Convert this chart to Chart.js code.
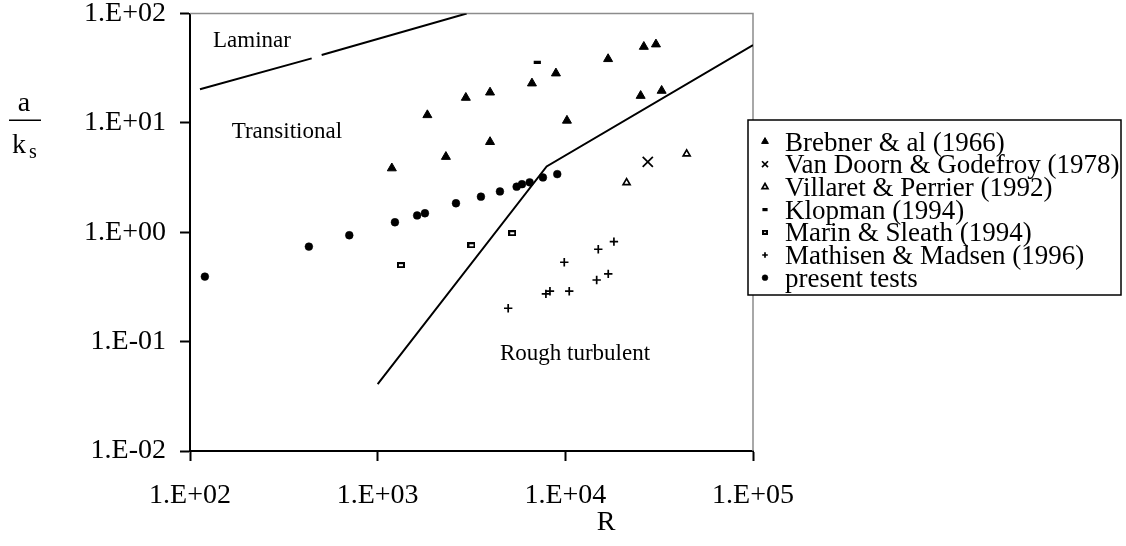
<!DOCTYPE html>
<html>
<head>
<meta charset="utf-8">
<script src="https://cdn.jsdelivr.net/npm/chart.js@4/dist/chart.umd.min.js"></script>
<style>
  html, body { margin: 0; padding: 0; background: #fff; }
  #plot { display: block; }
</style>
</head>
<body>
<canvas id="plot" width="1126" height="546"></canvas>
<script>
// Measured data: relative orbital amplitude a/ks against Reynolds number R
var brebnerR = [1190, 1840, 2310, 2950, 3970, 3970, 6640, 8910, 10200, 16900, 25200, 26200, 30400, 32600];
var brebnerA = [3.85, 11.8, 4.9, 17.0, 19.0, 6.7, 23.0, 28.4, 10.5, 38.4, 17.7, 49.7, 52.3, 19.7];

var vanDoornR = [27500];
var vanDoornA = [4.4];

var villaretR = [21200, 44300];
var villaretA = [2.84, 5.2];

var klopmanR = [7090];
var klopmanA = [35.8];

var marinR = [1330, 3160, 5210];
var marinA = [0.50, 0.76, 0.98];

var mathisenR = [4960, 7880, 8280, 9870, 10490, 14690, 14980, 16930, 18150];
var mathisenA = [0.202, 0.273, 0.289, 0.532, 0.289, 0.366, 0.699, 0.416, 0.821];

var presentR = [120, 430, 706, 1236, 1623, 1786, 2614, 3550, 4483, 5502, 5873, 6454, 7597, 9057];
var presentA = [0.393, 0.739, 0.939, 1.234, 1.424, 1.492, 1.841, 2.116, 2.36, 2.61, 2.75, 2.86, 3.17, 3.40];

// Regime boundaries (null breaks the laminar line)
var laminarR = [113, 445, 475, 503, 2980];
var laminarA = [20.3, 38.9, null, 41.8, 100];

var roughR = [1000, 7950, 100000];
var roughA = [0.0408, 4.0, 51.5];

// Axis ticks
var xTicks = [100, 1000, 10000, 100000];
var yTicks = [0.01, 0.1, 1, 10, 100];

// Regime names, anchored at left baseline in data units
var regionNames = ['Laminar', 'Transitional', 'Rough turbulent'];
var regionR = [132.6, 166.8, 4483];
var regionA = [49.7, 7.23, 0.068];

var FONT = '"Liberation Serif", "Times New Roman", serif';

function pairs(xs, ys) {
    return xs.map(function (x, i) { return { x: x, y: ys[i] }; });
}

function sciLabel(v) {
    var e = Math.round(Math.log10(v));
    var s = String(Math.abs(e));
    if (s.length < 2) s = '0' + s;
    return '1.E' + (e < 0 ? '-' : '+') + s;
}

// small open rectangle used for the Marin & Sleath points
function boxMarker(w, h) {
    var c = document.createElement('canvas');
    c.width = w; c.height = h;
    var g = c.getContext('2d');
    g.fillStyle = '#fff';
    g.fillRect(0, 0, w, h);
    g.strokeStyle = '#000';
    g.lineWidth = 2;
    g.strokeRect(1, 1, w - 2, h - 2);
    return c;
}

var series = [
    { label: 'Brebner & al (1966)', xs: brebnerR, ys: brebnerA, style: 'triangle', radius: 5.2, fill: '#000', bw: 1, lr: 3.9 },
    { label: 'Van Doorn & Godefroy (1978)', xs: vanDoornR, ys: vanDoornA, style: 'crossRot', radius: 7.2, fill: '#000', bw: 1.7, lr: 4.2 },
    { label: 'Villaret & Perrier (1992)', xs: villaretR, ys: villaretA, style: 'triangle', radius: 4, fill: '#fff', bw: 1.7, lr: 3.4 },
    { label: 'Klopman (1994)', xs: klopmanR, ys: klopmanA, style: 'line', radius: 3.6, fill: '#000', bw: 3.2, lr: 2.6 },
    { label: 'Marin & Sleath (1994)', xs: marinR, ys: marinA, style: boxMarker(8, 6), radius: 4, fill: '#fff', bw: 1, legendStyle: boxMarker(6, 5) },
    { label: 'Mathisen & Madsen (1996)', xs: mathisenR, ys: mathisenA, style: 'cross', radius: 4.2, fill: '#000', bw: 1.7, lr: 2.8 },
    { label: 'present tests', xs: presentR, ys: presentA, style: 'circle', radius: 3.9, fill: '#000', bw: 0.5, lr: 2.9 }
];

var datasets = series.map(function (s) {
    return {
        label: s.label,
        data: pairs(s.xs, s.ys),
        pointStyle: s.style,
        pointRadius: s.radius,
        pointBackgroundColor: s.fill,
        pointBorderColor: '#000',
        pointBorderWidth: s.bw,
        showLine: false
    };
});

datasets.push({
    label: 'laminar limit',
    data: pairs(laminarR, laminarA),
    showLine: true,
    spanGaps: false,
    pointRadius: 0,
    borderColor: '#000',
    borderWidth: 2
});
datasets.push({
    label: 'rough limit',
    data: pairs(roughR, roughA),
    showLine: true,
    pointRadius: 0,
    borderColor: '#000',
    borderWidth: 2
});

// gray frame on top and right of the plot area
var framePlugin = {
    id: 'frame',
    beforeDatasetsDraw: function (chart) {
        var a = chart.chartArea, ctx = chart.ctx;
        ctx.save();
        ctx.strokeStyle = '#8c8c8c';
        ctx.lineWidth = 1.5;
        ctx.beginPath();
        ctx.moveTo(a.left, a.top);
        ctx.lineTo(a.right, a.top);
        ctx.lineTo(a.right, a.bottom);
        ctx.stroke();
        ctx.restore();
    }
};

// axis titles, regime names and the boxed legend
var textPlugin = {
    id: 'texts',
    afterDraw: function (chart) {
        var ctx = chart.ctx;
        var xs = chart.scales.x, ys = chart.scales.y;
        ctx.save();
        ctx.fillStyle = '#000';
        ctx.textBaseline = 'alphabetic';

        ctx.font = '23px ' + FONT;
        ctx.textAlign = 'left';
        regionNames.forEach(function (t, i) {
            ctx.fillText(t, xs.getPixelForValue(regionR[i]), ys.getPixelForValue(regionA[i]));
        });

        // y title as a fraction a / k_s
        ctx.font = '28px ' + FONT;
        ctx.textAlign = 'center';
        ctx.fillText('a', 24, 111);
        ctx.fillRect(9, 119.5, 32, 1.5);
        ctx.fillText('k', 19, 153);
        ctx.font = '20px ' + FONT;
        ctx.fillText('s', 33, 158);

        // x title
        ctx.font = '28px ' + FONT;
        ctx.fillText('R', 606, 530);

        // legend box
        var lx = 748, ly = 120, lw = 373, lh = 175;
        ctx.fillStyle = '#fff';
        ctx.fillRect(lx, ly, lw, lh);
        ctx.strokeStyle = '#000';
        ctx.lineWidth = 1.5;
        ctx.strokeRect(lx, ly, lw, lh);

        ctx.textAlign = 'left';
        ctx.font = '27px ' + FONT;
        series.forEach(function (s, i) {
            var base = 150.5 + 22.7 * i;
            ctx.fillStyle = s.fill;
            ctx.strokeStyle = '#000';
            ctx.lineWidth = s.bw;
            Chart.helpers.drawPoint(ctx, {
                pointStyle: s.legendStyle || s.style,
                radius: s.lr || 3,
                borderWidth: s.bw,
                rotation: 0
            }, 765, base - 9);
            ctx.fillStyle = '#000';
            ctx.fillText(s.label, 785, base);
        });
        ctx.restore();
    }
};

function axisTicks(values) {
    return function (scale) {
        scale.ticks = values.map(function (v) { return { value: v }; });
    };
}

new Chart(document.getElementById('plot'), {
    type: 'scatter',
    data: { datasets: datasets },
    options: {
        responsive: false,
        animation: false,
        devicePixelRatio: 1,
        layout: { padding: { left: 0, top: 13.5, right: 373, bottom: 0 } },
        plugins: {
            legend: { display: false },
            tooltip: { enabled: false }
        },
        scales: {
            x: {
                type: 'logarithmic',
                min: 100,
                max: 100000,
                afterBuildTicks: axisTicks(xTicks),
                afterFit: function (scale) {
                    scale.height = 95;
                    scale.paddingLeft = 0; scale.paddingRight = 0;
                },
                grid: { display: true, drawOnChartArea: false, drawTicks: true, tickLength: 10, tickWidth: 2, tickColor: '#000' },
                border: { display: true, color: '#000', width: 2 },
                ticks: {
                    color: '#000',
                    padding: 18,
                    maxRotation: 0,
                    autoSkip: false,
                    font: { family: FONT, size: 28 },
                    callback: function (v) { return sciLabel(v); }
                }
            },
            y: {
                type: 'logarithmic',
                min: 0.01,
                max: 100,
                afterBuildTicks: axisTicks(yTicks),
                afterFit: function (scale) {
                    scale.width = 190;
                    scale.paddingTop = 0; scale.paddingBottom = 0;
                },
                grid: { display: true, drawOnChartArea: false, drawTicks: true, tickLength: 10, tickWidth: 2, tickColor: '#000' },
                border: { display: true, color: '#000', width: 2 },
                ticks: {
                    color: '#000',
                    padding: 14,
                    autoSkip: false,
                    font: { family: FONT, size: 28 },
                    callback: function (v) { return sciLabel(v); }
                }
            }
        }
    },
    plugins: [framePlugin, textPlugin]
});
</script>
</body>
</html>
